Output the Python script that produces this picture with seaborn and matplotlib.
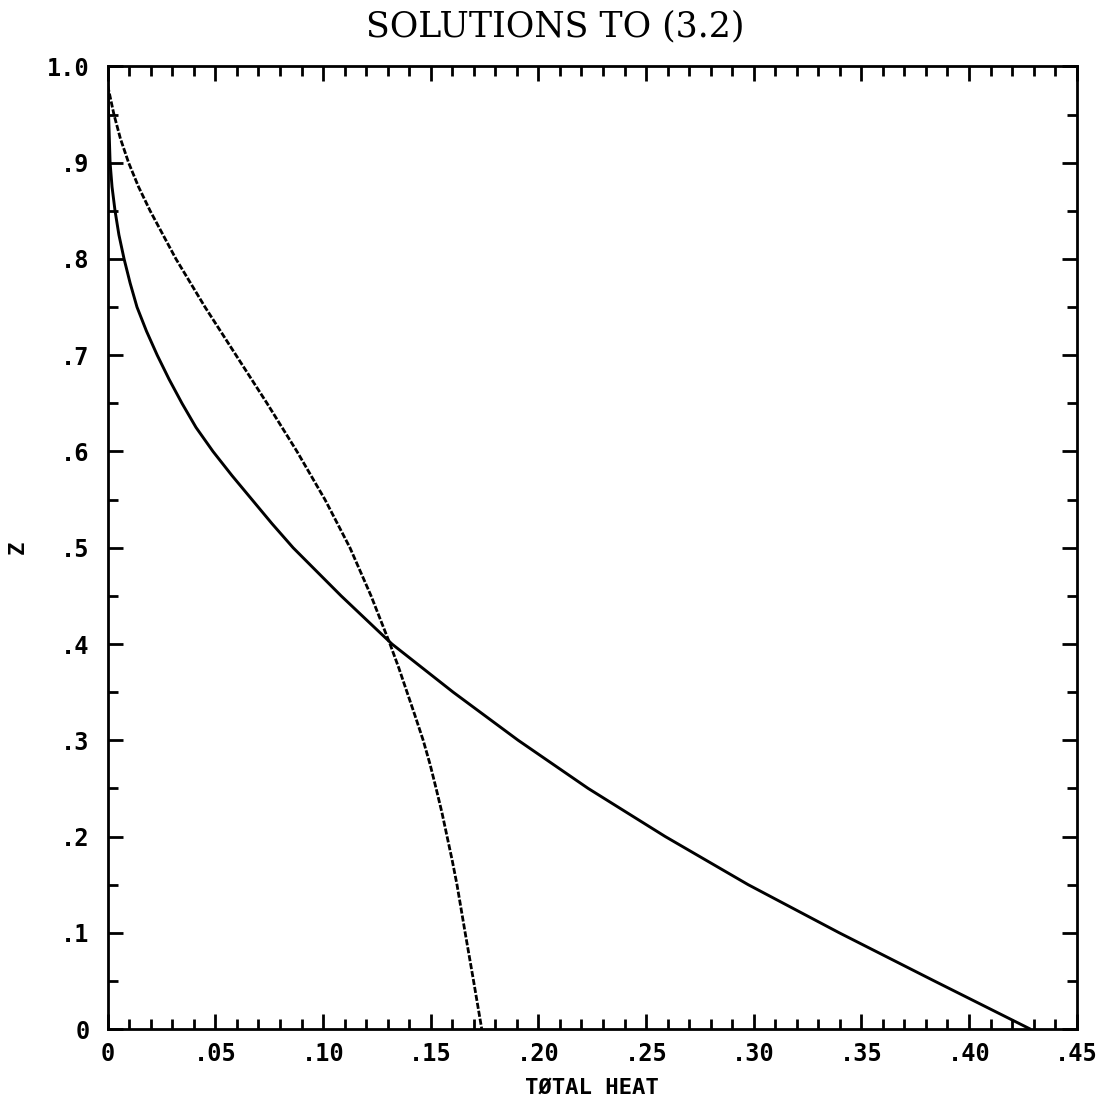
import matplotlib
matplotlib.use("Agg")
import matplotlib.pyplot as plt
from matplotlib.ticker import MultipleLocator, FixedLocator, FixedFormatter
import seaborn as sns
import pandas as pd

# Solution curves: total heat against depth z
solid_heat = [0.0, 0.0004, 0.0011, 0.0020, 0.0034, 0.0052, 0.0076, 0.0104,
              0.0136, 0.0180, 0.0230, 0.0285, 0.0345, 0.0410, 0.0489, 0.0577,
              0.0670, 0.0763, 0.0861, 0.1084, 0.1320, 0.1604, 0.1906, 0.2231,
              0.2589, 0.2974, 0.3397, 0.3838, 0.4284]
solid_z = [0.99, 0.95, 0.90, 0.875, 0.85, 0.825, 0.80, 0.775,
           0.75, 0.725, 0.70, 0.675, 0.65, 0.625, 0.60, 0.575,
           0.55, 0.525, 0.50, 0.45, 0.40, 0.35, 0.30, 0.25,
           0.20, 0.15, 0.10, 0.05, 0.0]

dashed_heat = [0.0, 0.0029, 0.0059, 0.0097, 0.0143, 0.0197, 0.0317, 0.0452,
               0.0596, 0.0740, 0.0879, 0.1009, 0.1125, 0.1223, 0.1267, 0.1311,
               0.1352, 0.1390, 0.1428, 0.1465, 0.1497, 0.1525, 0.1552, 0.1576,
               0.1600, 0.1622, 0.1660, 0.1699, 0.1737]
dashed_z = [0.98, 0.95, 0.925, 0.90, 0.875, 0.85, 0.80, 0.75,
            0.70, 0.65, 0.60, 0.55, 0.50, 0.45, 0.425, 0.40,
            0.375, 0.35, 0.325, 0.30, 0.275, 0.25, 0.225, 0.20,
            0.175, 0.15, 0.10, 0.05, 0.0]

x_ticks = [0.0, 0.05, 0.10, 0.15, 0.20, 0.25, 0.30, 0.35, 0.40, 0.45]
x_tick_labels = ["0", ".05", ".10", ".15", ".20", ".25", ".30", ".35", ".40", ".45"]
y_ticks = [0.0, 0.1, 0.2, 0.3, 0.4, 0.5, 0.6, 0.7, 0.8, 0.9, 1.0]
y_tick_labels = ["0", ".1", ".2", ".3", ".4", ".5", ".6", ".7", ".8", ".9", "1.0"]

sns.set_theme(style="ticks")
plt.rcParams["font.family"] = ["DejaVu Sans Mono", "DejaVu Sans"]

fig = plt.figure(figsize=(11.06, 11.06), dpi=100)
ax = fig.add_axes([0.0974, 0.0696, 0.8761, 0.8703])

solid_df = pd.DataFrame({"heat": solid_heat, "z": solid_z})
dashed_df = pd.DataFrame({"heat": dashed_heat, "z": dashed_z})

sns.lineplot(data=solid_df, x="heat", y="z", sort=False, estimator=None,
             color="black", linewidth=2.1, ax=ax)
sns.lineplot(data=dashed_df, x="heat", y="z", sort=False, estimator=None,
             color="black", linewidth=2.0, ax=ax,
             linestyle=(0, (2.2, 0.7)))

ax.set_xlim(0, 0.45)
ax.set_ylim(0, 1.0)

ax.xaxis.set_major_locator(FixedLocator(x_ticks))
ax.xaxis.set_major_formatter(FixedFormatter(x_tick_labels))
ax.xaxis.set_minor_locator(MultipleLocator(0.01))
ax.yaxis.set_major_locator(FixedLocator(y_ticks))
ax.yaxis.set_major_formatter(FixedFormatter(y_tick_labels))
ax.yaxis.set_minor_locator(MultipleLocator(0.05))

ax.tick_params(which="both", direction="in", top=True, right=True,
               color="black", width=2.0, labelsize=17, labelcolor="black")
ax.tick_params(which="major", length=11)
ax.tick_params(which="minor", length=7)
ax.tick_params(axis="x", which="major", pad=9)
ax.tick_params(axis="y", which="major", pad=13)
for lab in ax.get_xticklabels() + ax.get_yticklabels():
    lab.set_fontweight("bold")

for side in ax.spines.values():
    side.set_visible(True)
    side.set_color("black")
    side.set_linewidth(2.0)

ax.set_xlabel("TØTAL HEAT", fontsize=16, fontweight="bold", labelpad=9,
              color="black")
ax.set_ylabel("Z", fontsize=16, fontweight="bold", color="black")
ax.yaxis.set_label_coords(-0.083, 0.5)

fig.text(0.502, 0.9670, "SOLUTIONS TO (3.2)", fontsize=25,
         family="DejaVu Serif", ha="center", va="baseline", color="black")

fig.savefig("out.png", dpi=100, facecolor="white")
